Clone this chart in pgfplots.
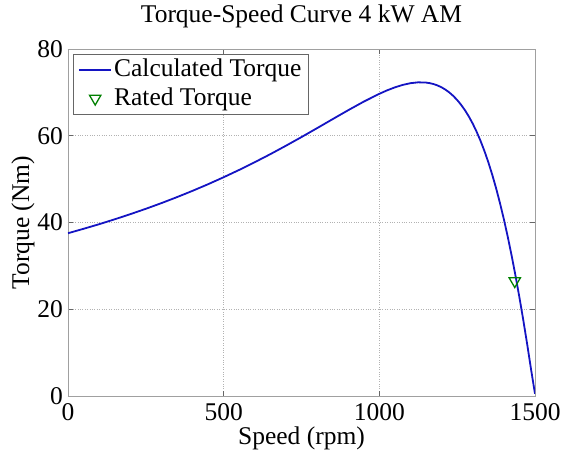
\documentclass[border=0pt]{standalone}
\usepackage{fontspec}
\setmainfont{Liberation Serif}
\usepackage{pgfplots}
\pgfplotsset{compat=1.18}
\definecolor{curveblue}{RGB}{20,20,195}
\definecolor{markgreen}{RGB}{0,128,0}
\definecolor{axgray}{RGB}{160,160,160}
\pgfplotsset{
  lineleg/.style={legend image code/.code={\draw[##1] (0pt,0pt) -- (32pt,0pt);}},
  markleg/.style={legend image code/.code={\draw[##1] plot coordinates {(16pt,0pt)};}},
}
\newcommand{\ff}{\fontsize{25.5}{29}\selectfont}
\begin{document}
\ff
\begin{tikzpicture}
\useasboundingbox (-68pt,-63pt) rectangle (496pt,396pt);
\begin{axis}[
  scale only axis, width=467pt, height=347pt,
  at={(0pt,0pt)}, anchor=south west,
  xmin=0, xmax=1500, ymin=0, ymax=80,
  xtick={0,500,1000,1500}, ytick={0,20,40,60,80},
  scaled ticks=false,
  /pgf/number format/assume math mode=true,
  /pgf/number format/1000 sep={},
  tick label style={font=\ff},
  label style={font=\ff},
  title style={font=\ff, at={(axis description cs:0.5,1.058)}, anchor=base},
  xlabel style={at={(axis description cs:0.5,-0.141)}, anchor=base},
  ylabel style={at={(axis description cs:-0.0835,0.5)}, anchor=base},
  yticklabel style={anchor=east, inner sep=0pt, xshift=-5pt},
  xticklabel style={anchor=north, inner sep=0pt, yshift=-7pt},
  axis line style={axgray, line width=0.8pt},
  tick align=inside, major tick length=5pt,
  tick style={color=gray!80!black, line width=0.6pt},
  grid=major, grid style={dotted, color=gray!60, line width=0.6pt},
  title={Torque-Speed Curve 4 kW AM},
  xlabel={Speed (rpm)}, ylabel={Torque (Nm)},
  legend cell align=left,
  legend style={at={(axis description cs:0.0107,0.9856)}, anchor=north west,
    draw=gray!80!black, line width=0.6pt, fill=white,
    font=\ff,
    inner xsep=5pt, inner ysep=3pt, row sep=3pt},
]
\addplot[curveblue, line width=1.8pt, lineleg]
  table[row sep=\\] {
x y\\
0 37.53\\ 50 38.55\\ 100 39.61\\ 150 40.74\\ 200 41.92\\ 250 43.16\\
300 44.47\\ 350 45.85\\ 400 47.30\\ 450 48.83\\ 500 50.44\\ 550 52.13\\
600 53.91\\ 650 55.76\\ 700 57.70\\ 750 59.70\\ 800 61.75\\ 850 63.83\\
900 65.89\\ 950 67.87\\ 1000 69.67\\ 1025 70.47\\ 1050 71.16\\ 1075 71.72\\
1100 72.12\\ 1125 72.32\\ 1150 72.26\\ 1162.5 72.12\\ 1175 71.90\\ 1187.5 71.58\\
1200 71.16\\ 1212.5 70.63\\ 1225 69.97\\ 1237.5 69.18\\ 1250 68.24\\ 1262.5 67.15\\
1275 65.89\\ 1287.5 64.44\\ 1300 62.79\\ 1312.5 60.92\\ 1325 58.83\\ 1337.5 56.50\\
1350 53.91\\ 1362.5 51.05\\ 1375 47.91\\ 1387.5 44.47\\ 1400 40.75\\ 1412.5 36.70\\
1425 32.34\\ 1437.5 27.68\\ 1450 22.71\\ 1462.5 17.44\\ 1475 11.88\\ 1487.5 6.06\\
1500 0.5\\
};
\addlegendentry{Calculated Torque}
\addplot[only marks, mark=triangle, mark size=6.5pt,
  mark options={draw=markgreen, fill=none, rotate=180, line width=1.3pt}, markleg]
  coordinates {(1435,26.5)};
\addlegendentry{Rated Torque}
\end{axis}
\end{tikzpicture}
\end{document}
